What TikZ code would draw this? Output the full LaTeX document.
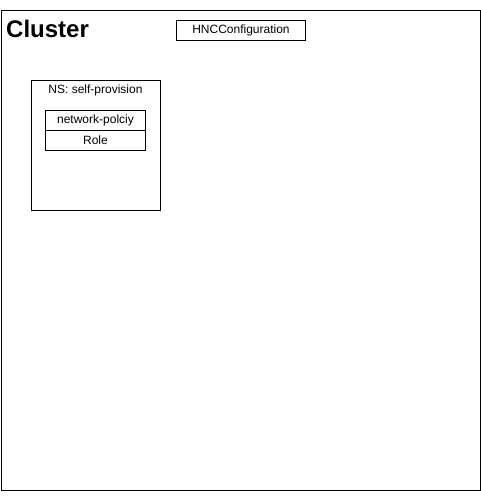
\documentclass[tikz,border=0pt]{standalone}
\usepackage{fontspec}
\setmainfont{Liberation Sans}
\begin{document}
\begin{tikzpicture}[x=1pt,y=-1pt,
  box/.style={draw=black,line width=1pt},
  lbl/.style={inner sep=0pt,font=\fontsize{12}{14}\selectfont}]
\useasboundingbox (0,0) rectangle (481,499);
\draw[box] (1,10.5) rectangle (480,490) coordinate (clusterSE);
\coordinate (clusterNW) at (1,10.5);
\node[anchor=base west,inner sep=0pt,font=\fontsize{24}{28}\selectfont\bfseries] (cluster) at (6,37) {Cluster};
\draw[box] (176.5,20.5) rectangle (305.5,40.5);
\node[lbl] (hnc) at (241,30.5) {HNCConfiguration};
\draw[box] (31,80.5) rectangle (160,210);
\node[lbl] (ns) at (95.5,90.5) {NS: self-provision};
\draw[box] (45.5,110.5) rectangle (145.5,130.5);
\node[lbl] (np) at (95.5,120.5) {network-polciy};
\draw[box] (45.5,130.5) rectangle (145.5,150.5);
\node[lbl] (role) at (95.5,140.5) {Role};
\end{tikzpicture}
\end{document}
